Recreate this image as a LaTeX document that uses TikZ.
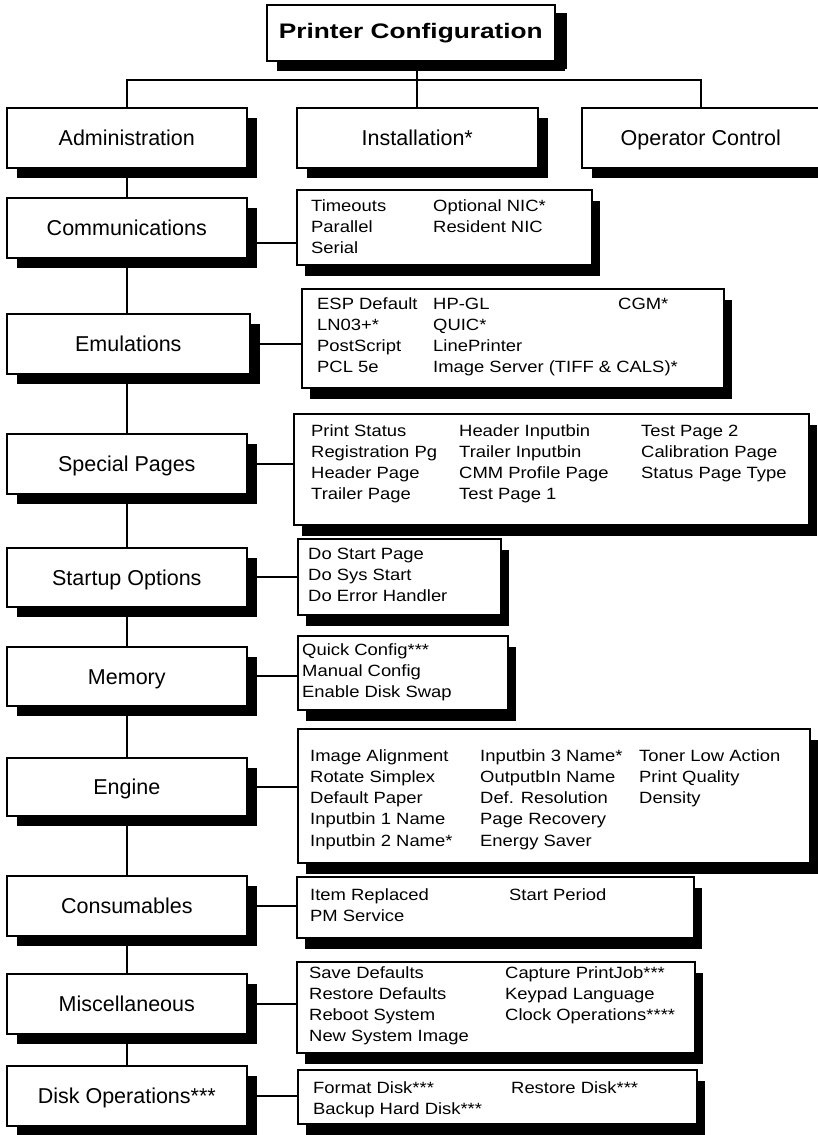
\documentclass[tikz,border=0pt]{standalone}
\usepackage{fontspec}
\setmainfont{Liberation Sans}
\newfontfamily\subfam[FakeStretch=1.13]{Liberation Sans}
\newfontfamily\titfam[FakeStretch=1.25]{Liberation Sans}
\usetikzlibrary{shadows,backgrounds}
\tikzset{
  mb/.style={draw, line width=1.6pt, fill=white, inner sep=0pt, anchor=north west,
    minimum width=240pt, minimum height=60pt, font=\fontsize{21.5}{24}\selectfont,
    text height=15.5pt, text depth=0pt,
    drop shadow={shadow xshift=10pt, shadow yshift=-10pt, fill=black, opacity=1}},
  sb/.style={draw, line width=1.6pt, fill=white, inner sep=0pt, anchor=north west,
    drop shadow={shadow xshift=8pt, shadow yshift=-11pt, fill=black, opacity=1}},
  txt/.style={anchor=base west, inner sep=0pt, font=\subfam\fontsize{16.3}{19}\selectfont},
  conn/.style={line width=2pt},
}
\newcommand\coltext[4]{%
  \foreach \lbl [count=\i from 0] in {#4}
    \node[txt] (#1-\i) at (#2,{#3+21.3*\i}) {\lbl};}
\begin{document}
\begin{tikzpicture}[x=1pt,y=-1pt]
\useasboundingbox (0,0) rectangle (818,1135);
% title and top row
\node[mb, minimum width=288pt, minimum height=56pt, text height=15pt, text depth=4.5pt,
  font=\titfam\bfseries\fontsize{21}{24}\selectfont,
  drop shadow={shadow xshift=12pt, shadow yshift=-8pt, fill=black, opacity=1}] (title) at (266,4) {Printer Configuration};
\node[mb] (admin) at (6,107) {Administration};
\node[mb, minimum width=241pt] (inst) at (296,107) {Installation*};
\node[mb, minimum width=238pt] (oper) at (581,107) {Operator Control};
% left column
\node[mb] (comm) at (6,197) {Communications};
\node[mb, minimum width=243pt] (emul) at (6,313) {Emulations};
\node[mb] (spec) at (6,433) {Special Pages};
\node[mb, minimum height=59pt] (start) at (6,547) {Startup Options};
\node[mb, minimum height=59pt] (mem) at (6,646) {Memory};
\node[mb, minimum height=58pt] (eng) at (6,757) {Engine};
\node[mb] (cons) at (6,875) {Consumables};
\node[mb] (misc) at (6,973) {Miscellaneous};
\node[mb] (disk) at (6,1065) {Disk Operations***};
% sub boxes
\node[sb, minimum width=295pt, minimum height=75pt] (comS) at (296,189) {};
\node[sb, minimum width=422pt, minimum height=99pt] (emuS) at (301,288) {};
\node[sb, minimum width=515pt, minimum height=111pt] (speS) at (293,413) {};
\node[sb, minimum width=203pt, minimum height=76pt] (staS) at (297,538) {};
\node[sb, minimum width=210pt, minimum height=74pt] (memS) at (297,635) {};
\node[sb, minimum width=512pt, minimum height=134pt] (engS) at (297,728) {};
\node[sb, minimum width=397pt, minimum height=61pt] (conS) at (296,876) {};
\node[sb, minimum width=398pt, minimum height=91pt] (misS) at (296,961) {};
\node[sb, minimum width=399pt, minimum height=54pt] (dskS) at (297,1069) {};
% texts
\coltext{comA}{311}{211}{Timeouts,Parallel,Serial}
\coltext{comB}{433}{211}{Optional NIC*,Resident NIC}
\coltext{emuA}{317}{309}{ESP Default,LN03+*,PostScript,PCL 5e}
\coltext{emuB}{433}{309}{HP-GL,QUIC*,LinePrinter,{Image Server (TIFF \& CALS)*}}
\coltext{emuC}{618}{309}{CGM*}
\coltext{speA}{311}{436}{Print Status,Registration Pg,Header Page,Trailer Page}
\coltext{speB}{459}{436}{Header Inputbin,Trailer Inputbin,CMM Profile Page,Test Page 1}
\coltext{speC}{641}{436}{Test Page 2,Calibration Page,Status Page Type}
\coltext{staA}{308}{559}{Do Start Page,Do Sys Start,Do Error Handler}
\coltext{memA}{302}{655}{Quick Config***,Manual Config,Enable Disk Swap}
\coltext{engA}{310}{761}{Image Alignment,Rotate Simplex,Default Paper,Inputbin 1 Name,Inputbin 2 Name*}
\coltext{engB}{480}{761}{Inputbin 3 Name*,OutputbIn Name,Def. Resolution,Page Recovery,Energy Saver}
\coltext{engC}{639}{761}{Toner Low Action,Print Quality,Density}
\coltext{conA}{310}{900}{Item Replaced,PM Service}
\coltext{conB}{509}{900}{Start Period}
\coltext{misA}{309}{978}{Save Defaults,Restore Defaults,Reboot System,New System Image}
\coltext{misB}{505}{978}{Capture PrintJob***,Keypad Language,Clock Operations****}
\coltext{dskA}{313}{1093}{Format Disk***,Backup Hard Disk***}
\coltext{dskB}{511}{1093}{Restore Disk***}
% connectors
\begin{scope}[on background layer]
\fill[white] (0,0) rectangle (818,1135);
\coordinate (bar) at (0,80);
\draw[conn] (admin.north) -- (admin.north |- bar) -- (oper.north |- bar) -- (oper.north);
\draw[conn] (title.south -| inst.north) -- (inst.north);
\draw[conn] (admin.south) -- (disk.north);
\coordinate (cc) at ([yshift=-15pt]comm.east);
\draw[conn] (cc) -- (cc -| comS.west);
\draw[conn] (emul.east) -- (emul.east -| emuS.west);
\draw[conn] (spec.east) -- (spec.east -| speS.west);
\draw[conn] (start.east) -- (start.east -| staS.west);
\draw[conn] (mem.east) -- (mem.east -| memS.west);
\draw[conn] (eng.east) -- (eng.east -| engS.west);
\draw[conn] (cons.east) -- (cons.east -| conS.west);
\draw[conn] (misc.east) -- (misc.east -| misS.west);
\draw[conn] (disk.east) -- (disk.east -| dskS.west);
\end{scope}
\end{tikzpicture}
\end{document}
